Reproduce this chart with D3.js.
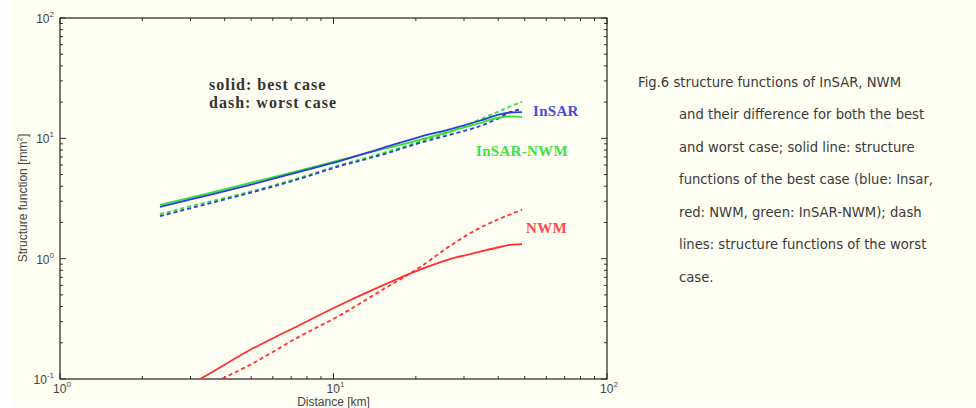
<!DOCTYPE html>
<html>
<head>
<meta charset="utf-8">
<script src="https://cdn.jsdelivr.net/npm/d3@7"></script>
<style>
  html, body { margin: 0; padding: 0; background: #ffffff; }
  svg { display: block; }
  .tick-label { font-family: "Liberation Sans", Arial, sans-serif; font-size: 12px; fill: #444; }
  .caption { font-family: "DejaVu Sans", Verdana, sans-serif; font-size: 13.2px; fill: #3a3a3a; }
</style>
</head>
<body>
<svg id="chart"></svg>
<script>
// distances in km (shared by all curves)
var distances = [2.32, 3.25, 4.95, 7.5, 10.6, 15, 20.7, 27, 34.2, 40.6, 44.2, 48.9];

// structure functions [mm^2], best case = solid, worst case = dash
var insarBest     = [2.69, 3.24, 4.10, 5.27, 6.49, 8.26, 10.3, 12.0, 14.0, 15.8, 16.4, 16.5];
var insarWorst    = [2.26, 2.75, 3.52, 4.60, 5.90, 7.30, 9.16, 10.8, 12.6, 14.9, 16.5, 17.5];
var diffBest      = [2.80, 3.35, 4.26, 5.40, 6.61, 8.10, 9.70, 11.5, 13.4, 14.9, 15.2, 15.1];
var diffWorst     = [2.35, 2.85, 3.60, 4.70, 6.01, 7.50, 9.40, 11.4, 14.3, 16.9, 18.4, 20.2];
var nwmBest       = [0.066, 0.100, 0.174, 0.280, 0.414, 0.594, 0.810, 1.00, 1.14, 1.25, 1.30, 1.32];
var nwmWorst      = [0.055, 0.082, 0.131, 0.225, 0.340, 0.547, 0.850, 1.30, 1.80, 2.15, 2.33, 2.54];

var xTicks = [1, 10, 100];
var yTicks = [0.1, 1, 10, 100];

var captionLines = [
  "Fig.6 structure functions of InSAR, NWM",
  "and their difference for both the best",
  "and worst case; solid line: structure",
  "functions of the best case (blue: Insar,",
  "red: NWM, green: InSAR-NWM); dash",
  "lines: structure functions of the worst",
  "case."
];

var W = 976, H = 408;
var margin = { top: 18, left: 60, right: 369, bottom: 29 };
var width = W - margin.left - margin.right;
var height = H - margin.top - margin.bottom;

var svg = d3.select("#chart").attr("width", W).attr("height", H);

// page background
svg.append("rect").attr("x", 12).attr("y", 0).attr("width", W - 12).attr("height", 406)
  .attr("fill", "#fefef2");

var xscale = d3.scaleLog().domain([1, 100]).range([0, width]);
var yscale = d3.scaleLog().domain([0.1, 100]).range([height, 0]);

var graph = svg.append("g")
  .attr("transform", "translate(" + margin.left + "," + margin.top + ")");

graph.append("clipPath").attr("id", "plot-clip")
  .append("rect").attr("width", width).attr("height", height);

// minor + major ticks, drawn inward on all four sides (matlab style)
function allTicks(domain) {
  var out = [];
  for (var e = Math.log10(domain[0]); e < Math.log10(domain[1]); e++) {
    for (var m = 1; m < 10; m++) out.push({ v: m * Math.pow(10, e), major: m === 1 });
  }
  out.push({ v: domain[1], major: true });
  return out;
}

var tickColor = "#333";
allTicks([1, 100]).forEach(function(t) {
  var x = xscale(t.v), len = t.major ? 6 : 3;
  graph.append("line").attr("x1", x).attr("x2", x).attr("y1", height).attr("y2", height - len)
    .attr("stroke", tickColor);
  graph.append("line").attr("x1", x).attr("x2", x).attr("y1", 0).attr("y2", len)
    .attr("stroke", tickColor);
});
allTicks([0.1, 100]).forEach(function(t) {
  var y = yscale(t.v), len = t.major ? 6 : 3;
  graph.append("line").attr("x1", 0).attr("x2", len).attr("y1", y).attr("y2", y)
    .attr("stroke", tickColor);
  graph.append("line").attr("x1", width).attr("x2", width - len).attr("y1", y).attr("y2", y)
    .attr("stroke", tickColor);
});

graph.append("rect").attr("width", width).attr("height", height)
  .attr("fill", "none").attr("stroke", "#222").attr("stroke-width", 1.2);

// tick labels as 10^n
function powLabel(sel, exp) {
  sel.append("tspan").text("10");
  sel.append("tspan").attr("dy", -6).attr("font-size", "8px").text(exp);
}
xTicks.forEach(function(v) {
  var t = graph.append("text").attr("class", "tick-label")
    .attr("x", xscale(v) + 2).attr("y", height + 13.5).attr("text-anchor", "middle");
  powLabel(t, Math.round(Math.log10(v)));
});
yTicks.forEach(function(v) {
  var t = graph.append("text").attr("class", "tick-label")
    .attr("x", -6).attr("y", yscale(v) + 5).attr("text-anchor", "end");
  powLabel(t, Math.round(Math.log10(v)));
});

// axis titles
graph.append("text").attr("class", "tick-label")
  .attr("x", width / 2).attr("y", height + 26.5).attr("text-anchor", "middle")
  .attr("font-size", "11px")
  .text("Distance [km]");
var yt = svg.append("text").attr("class", "tick-label")
  .attr("transform", "translate(27,198) rotate(-90)")
  .attr("text-anchor", "middle");
yt.append("tspan").text("Structure function [mm");
yt.append("tspan").attr("dy", -5).attr("font-size", "8px").text("2");
yt.append("tspan").attr("dy", 5).text("]");

// curves
var line = d3.line()
  .x(function(d) { return xscale(d[0]); })
  .y(function(d) { return yscale(d[1]); })
  .curve(d3.curveMonotoneX);

var series = [
  { vals: nwmWorst,   color: "#ff3030", dash: "4,3" },
  { vals: nwmBest,    color: "#ff3030", dash: null },
  { vals: diffWorst,  color: "#33e033", dash: "4,3" },
  { vals: insarWorst, color: "#2a3ce0", dash: "4,3" },
  { vals: diffBest,   color: "#33e033", dash: null },
  { vals: insarBest,  color: "#2a3ce0", dash: null }
];

var lines = graph.append("g").attr("clip-path", "url(#plot-clip)");
series.forEach(function(s) {
  lines.append("path")
    .datum(distances.map(function(d, i) { return [d, s.vals[i]]; }))
    .attr("d", line)
    .attr("fill", "none")
    .attr("stroke", s.color)
    .attr("stroke-width", 1.8)
    .attr("stroke-dasharray", s.dash);
});

// in-plot annotations
var serif = "'Liberation Serif', 'Times New Roman', serif";
["solid: best case", "dash: worst case"].forEach(function(txt, i) {
  graph.append("text").attr("x", 149).attr("y", 72 + i * 18)
    .attr("font-family", serif).attr("font-weight", "bold").attr("font-size", "16px")
    .attr("letter-spacing", "1px").attr("fill", "#333")
    .text(txt);
});

var labels = [
  { text: "InSAR", x: 473, y: 98, color: "#4a4ae0" },
  { text: "InSAR-NWM", x: 416, y: 138, color: "#44e044" },
  { text: "NWM", x: 466, y: 215, color: "#ff4a4a" }
];
labels.forEach(function(l) {
  graph.append("text").attr("x", l.x).attr("y", l.y)
    .attr("font-family", serif).attr("font-weight", "bold").attr("font-size", "15px")
    .attr("letter-spacing", "0.3px").attr("fill", l.color).text(l.text);
});

// figure caption on the right
svg.append("g").selectAll("text")
  .data(captionLines)
  .join("text")
    .attr("class", "caption")
    .attr("x", function(d, i) { return i === 0 ? 638 : 679; })
    .attr("y", function(d, i) { return 87 + i * 32.45; })
    .text(function(d) { return d; });
</script>
</body>
</html>
